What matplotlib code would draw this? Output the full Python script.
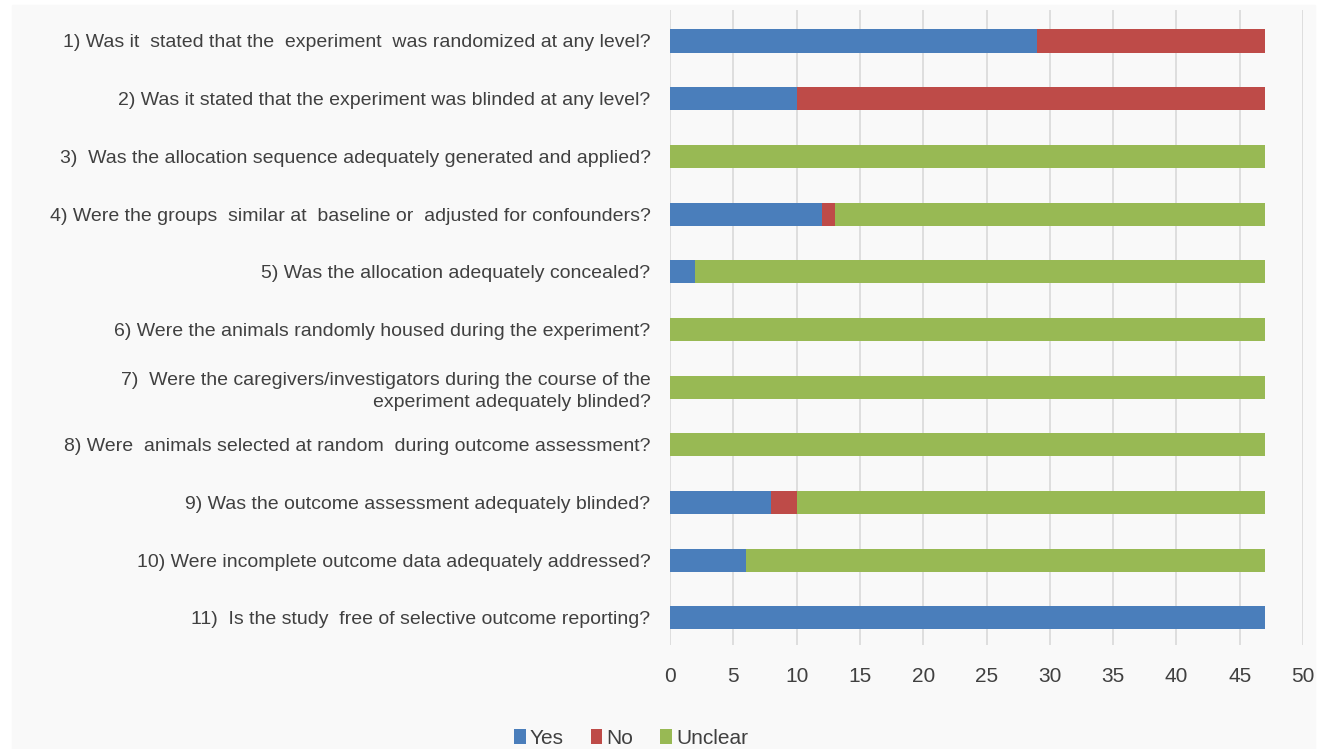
import matplotlib.pyplot as plt
import matplotlib.patches as mpatches
import numpy as np

plt.rcParams['font.family'] = ['Liberation Sans', 'DejaVu Sans']

questions = [
    "1) Was it  stated that the  experiment  was randomized at any level?",
    "2) Was it stated that the experiment was blinded at any level?",
    "3)  Was the allocation sequence adequately generated and applied?",
    "4) Were the groups  similar at  baseline or  adjusted for confounders?",
    "5) Was the allocation adequately concealed?",
    "6) Were the animals randomly housed during the experiment?",
    "7)  Were the caregivers/investigators during the course of the\nexperiment adequately blinded?",
    "8) Were  animals selected at random  during outcome assessment?",
    "9) Was the outcome assessment adequately blinded?",
    "10) Were incomplete outcome data adequately addressed?",
    "11)  Is the study  free of selective outcome reporting?",
]
yes = [29, 10, 0, 12, 2, 0, 0, 0, 8, 6, 47]
no = [18, 37, 0, 1, 0, 0, 0, 0, 2, 0, 0]
unclear = [0, 0, 47, 34, 45, 47, 47, 47, 37, 41, 0]

c_yes = '#4a7ebb'
c_no = '#be4b48'
c_unclear = '#98b954'
txt = '#404040'

fig = plt.figure(figsize=(13.33, 7.49), dpi=100)
fig.patch.set_facecolor('white')
fig.patches.append(mpatches.Rectangle((12/1333, 0), 1303/1333, 744/749,
                                      transform=fig.transFigure, color='#f9f9f9', zorder=-10))
ax = fig.add_axes([670/1333, 1 - 645/749, 633/1333, 635/749])
ax.set_facecolor('none')

y = np.arange(len(questions))
yes = np.array(yes)
no = np.array(no)
unclear = np.array(unclear)
h = 0.4
ax.barh(y, yes, height=h, color=c_yes, label='Yes', zorder=3)
ax.barh(y, no, left=yes, height=h, color=c_no, label='No', zorder=3)
ax.barh(y, unclear, left=yes + no, height=h, color=c_unclear, label='Unclear', zorder=3)

ax.set_xlim(0, 50)
ax.set_ylim(10.47, -0.537)
ax.set_xticks(np.arange(0, 51, 5))
ax.xaxis.grid(True, color='#d9d9d9', linewidth=1.2, zorder=0)
ax.set_yticks(y)
ax.set_yticklabels(questions, fontsize=14, color=txt, ha='right', linespacing=1.4)
ax.tick_params(axis='y', length=0, pad=14)
ax.tick_params(axis='x', length=0, pad=16, labelsize=15, labelcolor=txt)
for s in ax.spines.values():
    s.set_visible(False)

fig.legend(loc='center', bbox_to_anchor=(631/1333, 1 - 738/749), ncol=3, frameon=False,
           fontsize=15, handlelength=0.55, handleheight=0.7, handletextpad=0.2,
           columnspacing=1.3, labelcolor=txt)

fig.savefig('out.png', dpi=100)
